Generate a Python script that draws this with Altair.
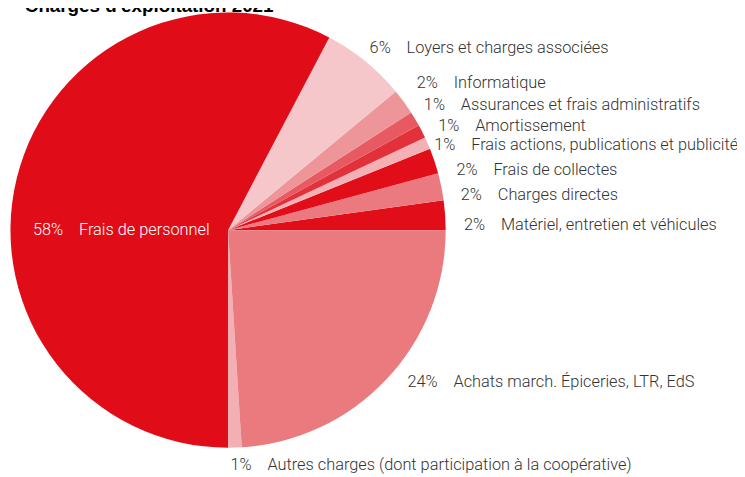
import math
import altair as alt
import pandas as pd

# ---- data ----
categories = [
    "Matériel, entretien et véhicules",
    "Charges directes",
    "Frais de collectes",
    "Frais actions, publications et publicité",
    "Amortissement",
    "Assurances et frais administratifs",
    "Informatique",
    "Loyers et charges associées",
    "Frais de personnel",
    "Autres charges (dont participation à la coopérative)",
    "Achats march. Épiceries, LTR, EdS",
]
shares = [2.2, 2.0, 1.9, 0.9, 1.0, 1.1, 1.9, 6.3, 57.7, 1.0, 24.0]
pct_labels = ["2%", "2%", "2%", "1%", "1%", "1%", "2%", "6%", "58%", "1%", "24%"]

colors = [
    "#E10E19", "#EA7A7F", "#E10E19", "#F3B1B5", "#E3313B", "#E75A61",
    "#EE9599", "#F6C7CA", "#E00D19", "#F3B0B4", "#EA7A7E",
]

TITLE = "Charges d'exploitation 2021"
INNER = "Frais de personnel"
GAP = "\u00a0" * 4

df = pd.DataFrame({"cat": categories, "value": shares, "pct": pct_labels})
df["idx"] = range(len(df))
df["label"] = [p + GAP + c for p, c in zip(pct_labels, categories)]

FONT = "Roboto"
FS = 16.5

theta_enc = alt.Theta(
    "value:Q",
    stack=True,
    scale=alt.Scale(range=[math.pi / 2, math.pi / 2 - 2 * math.pi]),
)
order_enc = alt.Order("idx:Q", sort="ascending")

base = alt.Chart(df)

pie = base.mark_arc(radius=220, stroke=None).encode(
    theta=theta_enc,
    order=order_enc,
    color=alt.Color("cat:N", scale=alt.Scale(domain=categories, range=colors), legend=None),
)

# label nudges (dx, dy) in pixels, spreading crowded labels like the reference
NUDGE = {
    "Loyers et charges associées": (-5, -2),
    "Informatique": (1, -10),
    "Assurances et frais administratifs": (-4, -6),
    "Amortissement": (3, 1),
    "Frais actions, publications et publicité": (-7, 8),
    "Frais de collectes": (8, 14),
    "Charges directes": (5, 11),
    "Matériel, entretien et véhicules": (4, 11),
    "Achats march. Épiceries, LTR, EdS": (10, -7),
    "Autres charges (dont participation à la coopérative)": (-5, 3),
}

layers = [pie]
for cat, (dx, dy) in NUDGE.items():
    layers.append(
        base.transform_calculate(
            t=alt.expr.if_(alt.datum.cat == cat, alt.datum.label, "")
        ).mark_text(
            radius=235, align="left", baseline="middle", dx=dx, dy=dy,
            font=FONT, fontSize=FS, fontWeight=300, color="#333333",
        ).encode(theta=theta_enc, order=order_enc, text="t:N")
    )

inner_label = base.transform_filter(alt.datum.cat == INNER).mark_text(
    theta=3 * math.pi / 2, radius=108, align="center", baseline="middle",
    font=FONT, fontSize=FS, fontWeight=300, color="white"
).encode(text="label:N")
layers.append(inner_label)

chart = alt.layer(*layers).properties(
    width=445,
    height=444,
    autosize=alt.AutoSizeParams(type="none"),
    padding={"left": 0, "top": 0, "right": 292, "bottom": 24},
    title=alt.TitleParams(
        text=TITLE, anchor="start", orient="top", frame="group", offset=0,
        baseline="alphabetic", dx=17, dy=20,
        font="Liberation Sans", fontSize=19, fontWeight="bold", color="black",
    ),
).configure_view(stroke=None)

chart.save("out.html", embed_options={"renderer": "svg", "actions": False})
